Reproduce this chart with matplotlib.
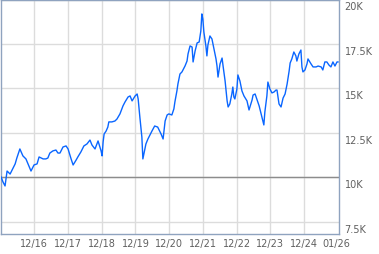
import numpy as np
import matplotlib
matplotlib.use('Agg')
import matplotlib.pyplot as plt
import matplotlib.ticker as ticker
import matplotlib.transforms as mtrans

# decimal year / index value
years = [2015.93, 2015.99, 2016.05, 2016.11, 2016.20, 2016.29, 2016.35, 2016.40, 2016.49, 2016.58,
         2016.67, 2016.76, 2016.82, 2016.91, 2017.00, 2017.06, 2017.18, 2017.26, 2017.32, 2017.38,
         2017.47, 2017.56, 2017.62, 2017.68, 2017.77, 2017.86, 2017.92, 2018.01, 2018.07, 2018.16,
         2018.21, 2018.30, 2018.39, 2018.48, 2018.57, 2018.63, 2018.72, 2018.81, 2018.90, 2018.93,
         2018.96, 2018.99, 2019.05, 2019.10, 2019.13, 2019.22, 2019.31, 2019.37, 2019.46, 2019.55,
         2019.61, 2019.70, 2019.76, 2019.82, 2019.91, 2019.97, 2020.00, 2020.05, 2020.11, 2020.14,
         2020.17, 2020.23, 2020.29, 2020.41, 2020.49, 2020.58, 2020.68, 2020.74, 2020.80, 2020.86,
         2020.91, 2021.00, 2021.06, 2021.09, 2021.15, 2021.18, 2021.24, 2021.30, 2021.39, 2021.45,
         2021.48, 2021.54, 2021.60, 2021.63, 2021.69, 2021.75, 2021.81, 2021.86, 2021.89, 2021.92,
         2021.95, 2022.01, 2022.04, 2022.07, 2022.13, 2022.19, 2022.25, 2022.31, 2022.34, 2022.37,
         2022.43, 2022.49, 2022.52, 2022.58, 2022.64, 2022.67, 2022.72, 2022.78, 2022.81, 2022.84,
         2022.87, 2022.93, 2022.96, 2023.02, 2023.08, 2023.14, 2023.23, 2023.29, 2023.38, 2023.41,
         2023.47, 2023.53, 2023.59, 2023.65, 2023.70, 2023.73, 2023.76, 2023.82, 2023.85, 2023.91,
         2023.97, 2024.03, 2024.09, 2024.12, 2024.18, 2024.24, 2024.30, 2024.36, 2024.42, 2024.48,
         2024.51, 2024.56, 2024.62, 2024.68, 2024.71, 2024.77, 2024.83, 2024.86, 2024.89, 2024.95,
         2025.01, 2025.04, 2025.13, 2025.19, 2025.28, 2025.34, 2025.43, 2025.48, 2025.54, 2025.60,
         2025.66, 2025.72, 2025.78, 2025.84, 2025.90, 2025.93]
values = [10030, 9740, 9520, 10360, 10190, 10530, 10760, 11090, 11600, 11210,
          11040, 10640, 10360, 10700, 10760, 11150, 11040, 11040, 11090, 11370,
          11490, 11540, 11370, 11370, 11710, 11770, 11600, 11040, 10700, 10980,
          11150, 11430, 11770, 11880, 12100, 11820, 11600, 12050, 11490, 11210,
          11990, 12440, 12610, 12830, 13120, 13120, 13170, 13280, 13570, 14020,
          14240, 14520, 14580, 14300, 14580, 14690, 14410, 13400, 12270, 11040,
          11320, 11880, 12160, 12610, 12890, 12830, 12440, 12160, 13170, 13510,
          13570, 13510, 13850, 14240, 14860, 15250, 15810, 15930, 16260, 16540,
          16940, 17390, 17330, 16490, 17110, 17560, 17610, 18230, 19190, 18900,
          18170, 17390, 16830, 17440, 17950, 17780, 17220, 16660, 16260, 15640,
          16380, 16710, 16260, 15420, 14300, 13960, 14130, 14690, 15080, 14520,
          14410, 14970, 15760, 15420, 14860, 14580, 14300, 13790, 14350, 14630,
          14690, 14350, 14020, 13570, 13170, 12950, 13680, 14580, 15360, 14970,
          14750, 14800, 14910, 14910, 14130, 13960, 14460, 14690, 15250, 15980,
          16430, 16660, 17050, 16830, 16540, 16940, 17160, 16210, 15930, 16040,
          16380, 16660, 16380, 16210, 16210, 16260, 16210, 16040, 16490, 16490,
          16320, 16210, 16490, 16260, 16490, 16490]
baseline = 10000

tick_years = [2016.92, 2017.92, 2018.92, 2019.92, 2020.92, 2021.92, 2022.92, 2023.92, 2024.92]
tick_labels = ['12/16', '12/17', '12/18', '12/19', '12/20', '12/21', '12/22', '12/23', '12/24']
last_year = 2025.88
last_label = '01/26'
y_ticks = [7500, 10000, 12500, 15000, 17500, 20000]
y_labels = ['7.5K', '10K', '12.5K', '15K', '17.5K', '20K']

frame = '#8fa3bf'
fig = plt.figure(figsize=(3.79, 2.55), dpi=100)
ax = fig.add_axes([1/379, 20/255, 338/379, 234.5/255])

ax.axhline(baseline, color='#8c8c8c', lw=1.0, zorder=2)
ax.plot(years, values, color='#0a66ff', lw=1.0, zorder=3)

ax.set_xlim(2015.93, 2025.96)
ax.set_ylim(6820, 20000)

ax.set_xticks(tick_years)
ax.set_xticklabels(tick_labels)
ax.set_xticks([last_year], minor=True)
ax.set_xticklabels([last_label], minor=True)
ax.set_yticks(y_ticks)
ax.set_yticklabels(y_labels)
ax.yaxis.tick_right()

ax.grid(True, which='major', color='#dcdcdc', lw=1.0, zorder=1)
ax.set_axisbelow(True)
ax.tick_params(which='both', length=0, labelsize=7, labelcolor='#606060')
ax.tick_params(axis='x', which='both', pad=3)
ax.tick_params(axis='y', pad=4)

off = mtrans.ScaledTranslation(0, -2/100, fig.dpi_scale_trans)
for lab in ax.get_yticklabels():
    lab.set_verticalalignment('top')
    lab.set_transform(lab.get_transform() + off)

for s in ax.spines.values():
    s.set_color(frame)
    s.set_linewidth(1.0)

fig.savefig('out.png', dpi=100)
